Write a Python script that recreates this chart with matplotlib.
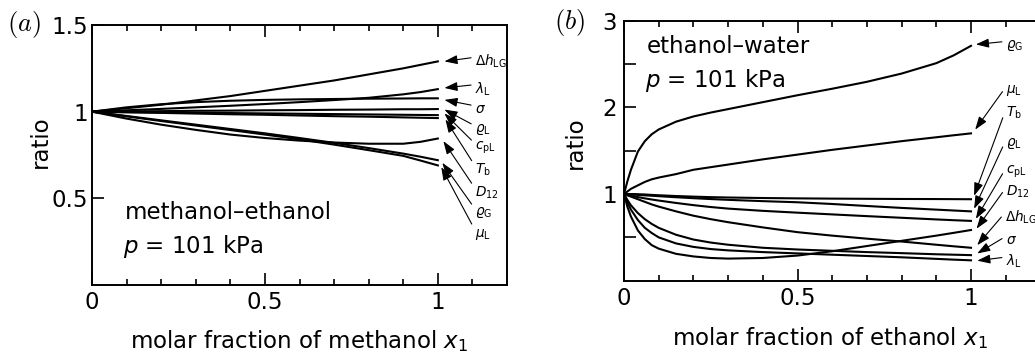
import numpy as np
import matplotlib
matplotlib.use('Agg')
import matplotlib.pyplot as plt

plt.rcParams['font.family'] = ['DejaVu Sans']
plt.rcParams['mathtext.fontset'] = 'dejavusans'

# (a) methanol-ethanol: property ratios vs molar fraction of methanol
xa = [0, 0.1, 0.2, 0.3, 0.4, 0.5, 0.6, 0.7, 0.8, 0.9, 0.95, 1.0]
a_dh = [1, 1.02, 1.04, 1.065, 1.09, 1.12, 1.15, 1.18, 1.215, 1.25, 1.27, 1.29]
a_lam = [1, 1.008, 1.016, 1.025, 1.034, 1.044, 1.055, 1.067, 1.08, 1.1, 1.113, 1.13]
a_sig = [1, 1.025, 1.043, 1.055, 1.063, 1.068, 1.071, 1.073, 1.075, 1.076, 1.077, 1.077]
a_rhoL = [1, 1.002, 1.003, 1.005, 1.006, 1.008, 1.009, 1.011, 1.012, 1.014, 1.014, 1.015]
a_cp = [1, 0.998, 0.996, 0.994, 0.992, 0.99, 0.988, 0.986, 0.984, 0.982, 0.981, 0.98]
a_tb = [1, 0.996, 0.993, 0.989, 0.985, 0.982, 0.978, 0.974, 0.971, 0.967, 0.965, 0.963]
a_d12 = [1, 0.96, 0.925, 0.895, 0.868, 0.848, 0.833, 0.822, 0.815, 0.815, 0.826, 0.845]
a_rhoG = [1, 0.975, 0.95, 0.925, 0.9, 0.875, 0.848, 0.82, 0.79, 0.758, 0.74, 0.72]
a_mu = [1, 0.973, 0.946, 0.92, 0.894, 0.868, 0.84, 0.81, 0.778, 0.745, 0.718, 0.69]

# (b) ethanol-water
xb = [0, 0.01, 0.02, 0.04, 0.06, 0.08, 0.1, 0.15, 0.2, 0.25, 0.3, 0.4, 0.5,
      0.6, 0.7, 0.8, 0.9, 0.95, 1.0]
b_rhoG = [1, 1.15, 1.28, 1.49, 1.61, 1.69, 1.745, 1.835, 1.895, 1.94, 1.98, 2.06, 2.14,
          2.215, 2.295, 2.39, 2.51, 2.6, 2.71]
b_mu = [1, 1.03, 1.06, 1.1, 1.14, 1.17, 1.19, 1.23, 1.28, 1.31, 1.34, 1.4, 1.455,
        1.51, 1.56, 1.61, 1.655, 1.678, 1.70]
b_tb = [1, 1.0, 1.0, 0.998, 0.995, 0.99, 0.986, 0.977, 0.97, 0.964, 0.96, 0.954, 0.95,
        0.947, 0.945, 0.943, 0.942, 0.941, 0.94]
b_rhoL = [1, 0.998, 0.995, 0.99, 0.985, 0.98, 0.975, 0.963, 0.952, 0.942, 0.933, 0.918, 0.905,
          0.885, 0.862, 0.84, 0.82, 0.81, 0.80]
b_cp = [1, 0.99, 0.98, 0.965, 0.95, 0.937, 0.925, 0.897, 0.872, 0.85, 0.832, 0.806, 0.785,
        0.765, 0.745, 0.726, 0.707, 0.698, 0.69]
b_dh = [1, 0.985, 0.97, 0.94, 0.91, 0.88, 0.855, 0.8, 0.75, 0.71, 0.675, 0.615, 0.56,
        0.52, 0.485, 0.452, 0.415, 0.397, 0.38]
b_sig = [1, 0.93, 0.87, 0.78, 0.71, 0.655, 0.61, 0.53, 0.475, 0.44, 0.415, 0.38, 0.36,
         0.345, 0.33, 0.318, 0.305, 0.30, 0.295]
b_lam = [1, 0.9, 0.82, 0.7, 0.61, 0.55, 0.5, 0.43, 0.39, 0.365, 0.35, 0.33, 0.315,
         0.3, 0.285, 0.27, 0.252, 0.243, 0.235]
b_d12 = [1, 0.85, 0.74, 0.58, 0.48, 0.41, 0.37, 0.31, 0.28, 0.262, 0.255, 0.262, 0.29,
         0.34, 0.4, 0.46, 0.52, 0.552, 0.585]

# label text, arrow tip, label position
labels_a = [
    (r'$\Delta h_{\rm LG}$', (1.019, 1.29), (1.108, 1.289)),
    (r'$\lambda_{\rm L}$', (1.019, 1.137), (1.108, 1.131)),
    (r'$\sigma$', (1.019, 1.068), (1.108, 1.013)),
    (r'$\varrho_{\rm L}$', (1.019, 1.012), (1.108, 0.896)),
    (r'$c_{\rm pL}$', (1.019, 0.99), (1.108, 0.791)),
    (r'$T_{\rm b}$', (1.022, 0.955), (1.108, 0.662)),
    (r'$D_{12}$', (1.016, 0.83), (1.108, 0.533)),
    (r'$\varrho_{\rm G}$', (1.013, 0.705), (1.108, 0.416)),
    (r'$\mu_{\rm L}$', (1.01, 0.68), (1.108, 0.293)),
]
labels_b = [
    (r'$\varrho_{\rm G}$', (1.014, 2.726), (1.101, 2.718)),
    (r'$\mu_{\rm L}$', (1.012, 1.743), (1.101, 2.196)),
    (r'$T_{\rm b}$', (1.009, 0.98), (1.101, 1.935)),
    (r'$\varrho_{\rm L}$', (1.009, 0.83), (1.101, 1.584)),
    (r'$c_{\rm pL}$', (1.014, 0.714), (1.101, 1.255)),
    (r'$D_{12}$', (1.016, 0.60), (1.101, 1.028)),
    (r'$\Delta h_{\rm LG}$', (1.018, 0.41), (1.098, 0.734)),
    (r'$\sigma$', (1.018, 0.314), (1.101, 0.473)),
    (r'$\lambda_{\rm L}$', (1.018, 0.231), (1.101, 0.223)),
]

FS = 16.5
LW = 1.5

fig = plt.figure(figsize=(10.35, 3.52), dpi=100)
ax1 = fig.add_axes([92 / 1035, 67 / 352, 415 / 1035, 260 / 352])
ax2 = fig.add_axes([624 / 1035, 71.3 / 352, 416.4 / 1035, 260 / 352])


def style(ax):
    for s in ax.spines.values():
        s.set_linewidth(1.4)
    ax.set_xlim(0, 1.2)
    ax.set_xticks([0, 0.5, 1])
    ax.set_xticklabels(['0', '0.5', '1'])
    ax.set_xticks(np.arange(0.1, 1.2, 0.1), minor=True)
    ax.tick_params(axis='x', which='both', direction='in', top=True, bottom=True,
                   labelsize=FS, pad=4.5, width=1.2)
    ax.tick_params(axis='x', which='major', length=8.6)
    ax.tick_params(axis='x', which='minor', length=4.3)
    ax.tick_params(axis='y', which='major', direction='in', left=True, right=False,
                   length=8.6, width=1.2, labelsize=FS)


def arrows(ax, items):
    for txt, tip, pos in items:
        ax.annotate(txt, xy=tip, xytext=pos, ha='left', va='center', fontsize=9.8,
                    arrowprops=dict(arrowstyle='-|>,head_length=0.8,head_width=0.28',
                                    color='black', lw=0.8, shrinkA=1, shrinkB=0,
                                    relpos=(0, 0.75)))


# (a)
for y in [a_dh, a_lam, a_sig, a_rhoL, a_cp, a_tb, a_d12, a_rhoG, a_mu]:
    ax1.plot(xa, y, color='black', lw=LW)
style(ax1)
ax1.set_ylim(0, 1.5)
ax1.set_yticks([0.5, 1, 1.5])
ax1.set_yticklabels(['0.5', '1', '1.5'])
ax1.tick_params(axis='y', pad=3)
ax1.set_xlabel(r'molar fraction of methanol $x_1$', fontsize=FS)
ax1.xaxis.set_label_coords(0.5, -0.165)
ax1.set_ylabel('ratio', fontsize=FS)
ax1.yaxis.set_label_coords(-0.096, 0.55)
ax1.text(0.096, 0.416, 'methanol–ethanol', fontsize=FS, va='center', ha='left')
ax1.text(0.09, 0.222, r'$p$ = 101 kPa', fontsize=FS, va='center', ha='left')
arrows(ax1, labels_a)
fig.text(7 / 1035, 1 - 25 / 352, r'$(a)$', fontsize=19, va='center', ha='left',
         math_fontfamily='cm')

# (b)
for y in [b_rhoG, b_mu, b_tb, b_rhoL, b_cp, b_dh, b_sig, b_lam, b_d12]:
    ax2.plot(xb, y, color='black', lw=LW)
style(ax2)
ax2.set_ylim(0, 3)
ax2.set_yticks([0.5, 1, 1.5, 2, 2.5, 3])
ax2.set_yticklabels(['', '1', '', '2', '', '3'])
ax2.tick_params(axis='y', pad=5)
ax2.set_xlabel(r'molar fraction of ethanol $x_1$', fontsize=FS)
ax2.xaxis.set_label_coords(0.495, -0.17)
ax2.set_ylabel('ratio', fontsize=FS)
ax2.yaxis.set_label_coords(-0.089, 0.53)
ax2.text(0.066, 2.706, 'ethanol–water', fontsize=FS, va='center', ha='left')
ax2.text(0.06, 2.31, r'$p$ = 101 kPa', fontsize=FS, va='center', ha='left')
arrows(ax2, labels_b)
fig.text(554 / 1035, 1 - 23 / 352, r'$(b)$', fontsize=19, va='center', ha='left',
         math_fontfamily='cm')

fig.savefig('out.png', dpi=100)
